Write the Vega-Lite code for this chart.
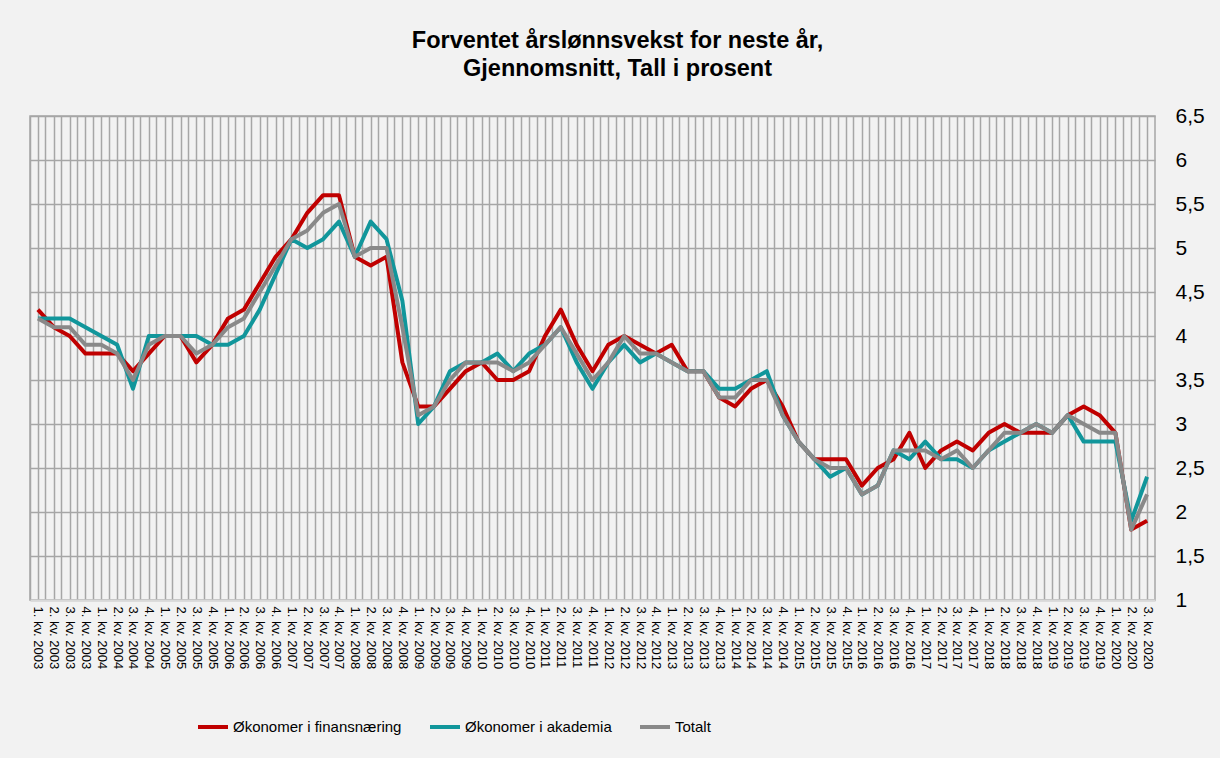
{
  "$schema": "https://vega.github.io/schema/vega-lite/v6.json",
  "width": 1125,
  "height": 484,
  "autosize": {"type": "none"},
  "padding": {"left": 30, "top": 116, "right": 65, "bottom": 158},
  "background": "#f2f2f2",
  "title": {
    "text": ["Forventet årslønnsvekst for neste år,", "Gjennomsnitt, Tall i prosent"],
    "font": "Liberation Sans",
    "fontSize": 23.5,
    "fontWeight": "bold",
    "color": "#000000",
    "anchor": "middle",
    "dx": 25,
    "lineHeight": 28,
    "offset": 25
  },
  "config": {
    "view": {"stroke": "#a6a6a6", "strokeWidth": 1.5},
    "font": "Liberation Sans"
  },
  "data": {
    "values": [
      {"kvartal": "1. kv. 2003", "Økonomer i finansnæring": 4.3, "Økonomer i akademia": 4.2, "Totalt": 4.2},
      {"kvartal": "2. kv. 2003", "Økonomer i finansnæring": 4.1, "Økonomer i akademia": 4.2, "Totalt": 4.1},
      {"kvartal": "3. kv. 2003", "Økonomer i finansnæring": 4.0, "Økonomer i akademia": 4.2, "Totalt": 4.1},
      {"kvartal": "4. kv. 2003", "Økonomer i finansnæring": 3.8, "Økonomer i akademia": 4.1, "Totalt": 3.9},
      {"kvartal": "1. kv. 2004", "Økonomer i finansnæring": 3.8, "Økonomer i akademia": 4.0, "Totalt": 3.9},
      {"kvartal": "2. kv. 2004", "Økonomer i finansnæring": 3.8, "Økonomer i akademia": 3.9, "Totalt": 3.8},
      {"kvartal": "3. kv. 2004", "Økonomer i finansnæring": 3.6, "Økonomer i akademia": 3.4, "Totalt": 3.5},
      {"kvartal": "4. kv. 2004", "Økonomer i finansnæring": 3.8, "Økonomer i akademia": 4.0, "Totalt": 3.9},
      {"kvartal": "1. kv. 2005", "Økonomer i finansnæring": 4.0, "Økonomer i akademia": 4.0, "Totalt": 4.0},
      {"kvartal": "2. kv. 2005", "Økonomer i finansnæring": 4.0, "Økonomer i akademia": 4.0, "Totalt": 4.0},
      {"kvartal": "3. kv. 2005", "Økonomer i finansnæring": 3.7, "Økonomer i akademia": 4.0, "Totalt": 3.8},
      {"kvartal": "4. kv. 2005", "Økonomer i finansnæring": 3.9, "Økonomer i akademia": 3.9, "Totalt": 3.9},
      {"kvartal": "1. kv. 2006", "Økonomer i finansnæring": 4.2, "Økonomer i akademia": 3.9, "Totalt": 4.1},
      {"kvartal": "2. kv. 2006", "Økonomer i finansnæring": 4.3, "Økonomer i akademia": 4.0, "Totalt": 4.2},
      {"kvartal": "3. kv. 2006", "Økonomer i finansnæring": 4.6, "Økonomer i akademia": 4.3, "Totalt": 4.5},
      {"kvartal": "4. kv. 2006", "Økonomer i finansnæring": 4.9, "Økonomer i akademia": 4.7, "Totalt": 4.8},
      {"kvartal": "1. kv. 2007", "Økonomer i finansnæring": 5.1, "Økonomer i akademia": 5.1, "Totalt": 5.1},
      {"kvartal": "2. kv. 2007", "Økonomer i finansnæring": 5.4, "Økonomer i akademia": 5.0, "Totalt": 5.2},
      {"kvartal": "3. kv. 2007", "Økonomer i finansnæring": 5.6, "Økonomer i akademia": 5.1, "Totalt": 5.4},
      {"kvartal": "4. kv. 2007", "Økonomer i finansnæring": 5.6, "Økonomer i akademia": 5.3, "Totalt": 5.5},
      {"kvartal": "1. kv. 2008", "Økonomer i finansnæring": 4.9, "Økonomer i akademia": 4.9, "Totalt": 4.9},
      {"kvartal": "2. kv. 2008", "Økonomer i finansnæring": 4.8, "Økonomer i akademia": 5.3, "Totalt": 5.0},
      {"kvartal": "3. kv. 2008", "Økonomer i finansnæring": 4.9, "Økonomer i akademia": 5.1, "Totalt": 5.0},
      {"kvartal": "4. kv. 2008", "Økonomer i finansnæring": 3.7, "Økonomer i akademia": 4.4, "Totalt": 4.1},
      {"kvartal": "1. kv. 2009", "Økonomer i finansnæring": 3.2, "Økonomer i akademia": 3.0, "Totalt": 3.1},
      {"kvartal": "2. kv. 2009", "Økonomer i finansnæring": 3.2, "Økonomer i akademia": 3.2, "Totalt": 3.2},
      {"kvartal": "3. kv. 2009", "Økonomer i finansnæring": 3.4, "Økonomer i akademia": 3.6, "Totalt": 3.5},
      {"kvartal": "4. kv. 2009", "Økonomer i finansnæring": 3.6, "Økonomer i akademia": 3.7, "Totalt": 3.7},
      {"kvartal": "1. kv. 2010", "Økonomer i finansnæring": 3.7, "Økonomer i akademia": 3.7, "Totalt": 3.7},
      {"kvartal": "2. kv. 2010", "Økonomer i finansnæring": 3.5, "Økonomer i akademia": 3.8, "Totalt": 3.7},
      {"kvartal": "3. kv. 2010", "Økonomer i finansnæring": 3.5, "Økonomer i akademia": 3.6, "Totalt": 3.6},
      {"kvartal": "4. kv. 2010", "Økonomer i finansnæring": 3.6, "Økonomer i akademia": 3.8, "Totalt": 3.7},
      {"kvartal": "1. kv. 2011", "Økonomer i finansnæring": 4.0, "Økonomer i akademia": 3.9, "Totalt": 3.9},
      {"kvartal": "2. kv. 2011", "Økonomer i finansnæring": 4.3, "Økonomer i akademia": 4.1, "Totalt": 4.1},
      {"kvartal": "3. kv. 2011", "Økonomer i finansnæring": 3.9, "Økonomer i akademia": 3.7, "Totalt": 3.8},
      {"kvartal": "4. kv. 2011", "Økonomer i finansnæring": 3.6, "Økonomer i akademia": 3.4, "Totalt": 3.5},
      {"kvartal": "1. kv. 2012", "Økonomer i finansnæring": 3.9, "Økonomer i akademia": 3.7, "Totalt": 3.7},
      {"kvartal": "2. kv. 2012", "Økonomer i finansnæring": 4.0, "Økonomer i akademia": 3.9, "Totalt": 4.0},
      {"kvartal": "3. kv. 2012", "Økonomer i finansnæring": 3.9, "Økonomer i akademia": 3.7, "Totalt": 3.8},
      {"kvartal": "4. kv. 2012", "Økonomer i finansnæring": 3.8, "Økonomer i akademia": 3.8, "Totalt": 3.8},
      {"kvartal": "1. kv. 2013", "Økonomer i finansnæring": 3.9, "Økonomer i akademia": 3.7, "Totalt": 3.7},
      {"kvartal": "2. kv. 2013", "Økonomer i finansnæring": 3.6, "Økonomer i akademia": 3.6, "Totalt": 3.6},
      {"kvartal": "3. kv. 2013", "Økonomer i finansnæring": 3.6, "Økonomer i akademia": 3.6, "Totalt": 3.6},
      {"kvartal": "4. kv. 2013", "Økonomer i finansnæring": 3.3, "Økonomer i akademia": 3.4, "Totalt": 3.3},
      {"kvartal": "1. kv. 2014", "Økonomer i finansnæring": 3.2, "Økonomer i akademia": 3.4, "Totalt": 3.3},
      {"kvartal": "2. kv. 2014", "Økonomer i finansnæring": 3.4, "Økonomer i akademia": 3.5, "Totalt": 3.5},
      {"kvartal": "3. kv. 2014", "Økonomer i finansnæring": 3.5, "Økonomer i akademia": 3.6, "Totalt": 3.5},
      {"kvartal": "4. kv. 2014", "Økonomer i finansnæring": 3.2, "Økonomer i akademia": 3.1, "Totalt": 3.1},
      {"kvartal": "1. kv. 2015", "Økonomer i finansnæring": 2.8, "Økonomer i akademia": 2.8, "Totalt": 2.8},
      {"kvartal": "2. kv. 2015", "Økonomer i finansnæring": 2.6, "Økonomer i akademia": 2.6, "Totalt": 2.6},
      {"kvartal": "3. kv. 2015", "Økonomer i finansnæring": 2.6, "Økonomer i akademia": 2.4, "Totalt": 2.5},
      {"kvartal": "4. kv. 2015", "Økonomer i finansnæring": 2.6, "Økonomer i akademia": 2.5, "Totalt": 2.5},
      {"kvartal": "1. kv. 2016", "Økonomer i finansnæring": 2.3, "Økonomer i akademia": 2.2, "Totalt": 2.2},
      {"kvartal": "2. kv. 2016", "Økonomer i finansnæring": 2.5, "Økonomer i akademia": 2.3, "Totalt": 2.3},
      {"kvartal": "3. kv. 2016", "Økonomer i finansnæring": 2.6, "Økonomer i akademia": 2.7, "Totalt": 2.7},
      {"kvartal": "4. kv. 2016", "Økonomer i finansnæring": 2.9, "Økonomer i akademia": 2.6, "Totalt": 2.7},
      {"kvartal": "1. kv. 2017", "Økonomer i finansnæring": 2.5, "Økonomer i akademia": 2.8, "Totalt": 2.7},
      {"kvartal": "2. kv. 2017", "Økonomer i finansnæring": 2.7, "Økonomer i akademia": 2.6, "Totalt": 2.6},
      {"kvartal": "3. kv. 2017", "Økonomer i finansnæring": 2.8, "Økonomer i akademia": 2.6, "Totalt": 2.7},
      {"kvartal": "4. kv. 2017", "Økonomer i finansnæring": 2.7, "Økonomer i akademia": 2.5, "Totalt": 2.5},
      {"kvartal": "1. kv. 2018", "Økonomer i finansnæring": 2.9, "Økonomer i akademia": 2.7, "Totalt": 2.7},
      {"kvartal": "2. kv. 2018", "Økonomer i finansnæring": 3.0, "Økonomer i akademia": 2.8, "Totalt": 2.9},
      {"kvartal": "3. kv. 2018", "Økonomer i finansnæring": 2.9, "Økonomer i akademia": 2.9, "Totalt": 2.9},
      {"kvartal": "4. kv. 2018", "Økonomer i finansnæring": 2.9, "Økonomer i akademia": 3.0, "Totalt": 3.0},
      {"kvartal": "1. kv. 2019", "Økonomer i finansnæring": 2.9, "Økonomer i akademia": 2.9, "Totalt": 2.9},
      {"kvartal": "2. kv. 2019", "Økonomer i finansnæring": 3.1, "Økonomer i akademia": 3.1, "Totalt": 3.1},
      {"kvartal": "3. kv. 2019", "Økonomer i finansnæring": 3.2, "Økonomer i akademia": 2.8, "Totalt": 3.0},
      {"kvartal": "4. kv. 2019", "Økonomer i finansnæring": 3.1, "Økonomer i akademia": 2.8, "Totalt": 2.9},
      {"kvartal": "1. kv. 2020", "Økonomer i finansnæring": 2.9, "Økonomer i akademia": 2.8, "Totalt": 2.9},
      {"kvartal": "2. kv. 2020", "Økonomer i finansnæring": 1.8, "Økonomer i akademia": 1.9, "Totalt": 1.8},
      {"kvartal": "3. kv. 2020", "Økonomer i finansnæring": 1.9, "Økonomer i akademia": 2.4, "Totalt": 2.2}
    ]
  },
  "layer": [
    {
      "mark": {"type": "rule", "opacity": 0},
      "encoding": {
        "x": {
          "field": "kvartal",
          "type": "ordinal",
          "sort": null,
          "scale": {"type": "band", "paddingInner": 0, "paddingOuter": 0},
          "axis": {
            "orient": "top",
            "grid": true,
            "bandPosition": 0,
            "gridColor": "#a6a6a6",
            "gridWidth": 1.5,
            "labels": false,
            "ticks": false,
            "domain": false,
            "title": null
          }
        }
      }
    },
    {
      "transform": [
        {"fold": ["Økonomer i finansnæring", "Økonomer i akademia", "Totalt"], "as": ["serie", "verdi"]}
      ],
      "mark": {"type": "line", "strokeWidth": 4, "strokeJoin": "round"},
      "encoding": {
        "x": {
          "field": "kvartal",
          "type": "ordinal",
          "sort": null,
          "scale": {"type": "point", "padding": 0.5},
          "axis": {
            "orient": "bottom",
            "grid": true,
            "gridColor": "#a6a6a6",
            "gridWidth": 1.5,
            "labelAngle": 90,
            "labelFont": "Liberation Sans",
            "labelFontSize": 13,
            "labelColor": "#000000",
            "labelPadding": 6,
            "labelOverlap": false,
            "ticks": false,
            "domain": true,
            "domainColor": "#d9d9d9",
            "domainWidth": 2,
            "title": null
          }
        },
        "y": {
          "field": "verdi",
          "type": "quantitative",
          "scale": {"domain": [1, 6.5], "nice": false, "zero": false},
          "axis": {
            "orient": "right",
            "values": [1, 1.5, 2, 2.5, 3, 3.5, 4, 4.5, 5, 5.5, 6, 6.5],
            "labelExpr": "replace(format(datum.value, '~g'), '.', ',')",
            "grid": true,
            "gridColor": "#a6a6a6",
            "gridWidth": 1.5,
            "ticks": false,
            "domain": false,
            "labelFont": "Liberation Sans",
            "labelFontSize": 21,
            "labelColor": "#000000",
            "labelPadding": 20,
            "title": null
          }
        },
        "color": {
          "field": "serie",
          "type": "nominal",
          "sort": ["Økonomer i finansnæring", "Økonomer i akademia", "Totalt"],
          "scale": {
            "domain": ["Økonomer i finansnæring", "Økonomer i akademia", "Totalt"],
            "range": ["#c00000", "#11969b", "#898989"]
          },
          "legend": {
            "orient": "none",
            "legendX": 166,
            "legendY": 594,
            "direction": "horizontal",
            "title": null,
            "symbolType": "stroke",
            "symbolStrokeWidth": 4,
            "symbolSize": 900,
            "labelFont": "Liberation Sans",
            "labelFontSize": 15,
            "labelColor": "#000000",
            "labelOffset": 3,
            "columnPadding": 20,
            "labelLimit": 400
          }
        }
      }
    }
  ],
  "resolve": {"scale": {"x": "independent"}, "axis": {"x": "independent"}}
}
